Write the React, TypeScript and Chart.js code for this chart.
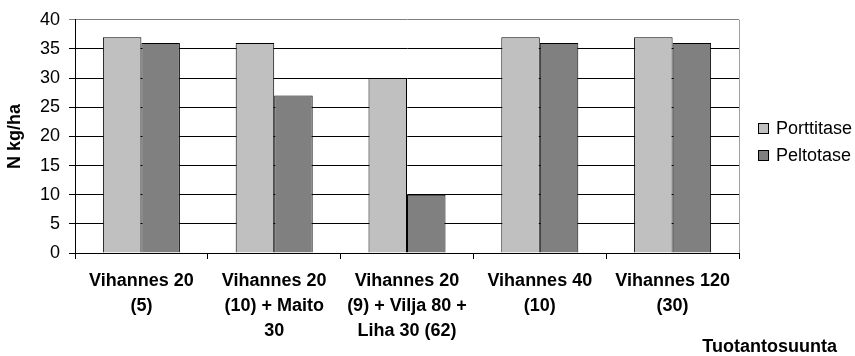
import { useEffect, useRef } from 'react';
import { Chart, registerables } from 'chart.js';

Chart.register(...registerables);

// Production lines (multi-line category labels)
const categories: string[][] = [
  ['Vihannes 20', '(5)'],
  ['Vihannes 20', '(10) + Maito', '30'],
  ['Vihannes 20', '(9) + Vilja 80 +', 'Liha 30 (62)'],
  ['Vihannes 40', '(10)'],
  ['Vihannes 120', '(30)'],
];

// Nitrogen balances, N kg/ha
const porttitase = [37, 36, 30, 37, 37];
const peltotase = [36, 27, 10, 36, 36];

const seriesNames = ['Porttitase', 'Peltotase'];
const seriesColors = ['#c0c0c0', '#808080'];

const yMin = 0;
const yMax = 40;
const yStep = 5;

const yTitle = 'N kg/ha';
const xTitle = 'Tuotantosuunta';

const FONT = "'Liberation Sans', Arial, Helvetica, sans-serif";
const SIZE = 18;

// Draws the plot frame's right edge, the side legend and the axis caption.
const decorations = {
  id: 'decorations',
  afterDraw(chart: Chart) {
    const { ctx, chartArea } = chart;
    ctx.save();
    // right edge of the plot frame
    ctx.strokeStyle = '#a0a0a0';
    ctx.lineWidth = 1;
    ctx.beginPath();
    ctx.moveTo(Math.round(chartArea.right) + 0.5, chartArea.top);
    ctx.lineTo(Math.round(chartArea.right) + 0.5, chartArea.bottom);
    ctx.stroke();

    // legend
    ctx.font = `${SIZE}px ${FONT}`;
    ctx.textBaseline = 'middle';
    ctx.textAlign = 'left';
    const lx = Math.round(chartArea.right) + 19;
    chart.data.datasets.forEach((ds, i) => {
      const cy = Math.round(chartArea.top) + 108 + i * 27;
      ctx.fillStyle = ds.backgroundColor as string;
      ctx.fillRect(lx, cy - 5, 10, 10);
      ctx.strokeStyle = '#000';
      ctx.strokeRect(lx + 0.5, cy - 5 + 0.5, 10, 10);
      ctx.fillStyle = '#000';
      ctx.fillText(ds.label as string, lx + 18, cy + 1);
    });

    // x axis caption, bottom right
    ctx.font = `bold ${SIZE}px ${FONT}`;
    ctx.textAlign = 'right';
    ctx.fillText(xTitle, chart.width - 18, 347);
    ctx.restore();
  },
};

export default function App() {
  const canvasRef = useRef<HTMLCanvasElement | null>(null);

  useEffect(() => {
    const canvas = canvasRef.current;
    if (!canvas) return;
    const chart = new Chart(canvas, {
      type: 'bar',
      data: {
        labels: categories,
        datasets: [
          {
            label: seriesNames[0],
            data: porttitase,
            backgroundColor: seriesColors[0],
            borderColor: '#000',
            borderWidth: 1,
          },
          {
            label: seriesNames[1],
            data: peltotase,
            backgroundColor: seriesColors[1],
            borderColor: '#000',
            borderWidth: 1,
          },
        ],
      },
      options: {
        responsive: false,
        animation: false,
        devicePixelRatio: 1,
        layout: { padding: { top: 13, right: 116, bottom: 0, left: 0 } },
        datasets: { bar: { categoryPercentage: 0.58, barPercentage: 1 } },
        plugins: {
          legend: { display: false },
          tooltip: { enabled: false },
          title: { display: false },
        },
        scales: {
          x: {
            offset: true,
            border: { display: true, color: '#000', width: 1 },
            grid: {
              offset: true,
              drawOnChartArea: false,
              drawTicks: true,
              tickLength: 6,
              color: '#000',
            },
            ticks: {
              autoSkip: false,
              maxRotation: 0,
              minRotation: 0,
              padding: 9,
              color: '#000',
              font: { family: FONT, size: SIZE, weight: 'bold', lineHeight: 1.4 },
            },
            afterFit(scale: any) {
              scale.height = 103;
            },
          },
          y: {
            min: yMin,
            max: yMax,
            border: { display: true, color: '#000', width: 1 },
            grid: {
              color: (c: any) => (c.tick && c.tick.value === yMax ? '#808080' : '#000'),
              tickLength: 6,
              drawTicks: true,
            },
            ticks: {
              stepSize: yStep,
              padding: 9,
              color: '#000',
              font: { family: FONT, size: SIZE },
            },
            title: {
              display: true,
              text: yTitle,
              color: '#000',
              padding: { top: 4, bottom: 0 },
              font: { family: FONT, size: SIZE, weight: 'bold' },
            },
            afterFit(scale: any) {
              scale.width = 75;
            },
          },
        },
      },
      plugins: [decorations],
    });
    return () => chart.destroy();
  }, []);

  return (
    <div style={{ position: 'fixed', left: 0, top: 0, width: 855, height: 356, background: '#fff' }}>
      <canvas ref={canvasRef} width={855} height={356} style={{ display: 'block' }} />
    </div>
  );
}
